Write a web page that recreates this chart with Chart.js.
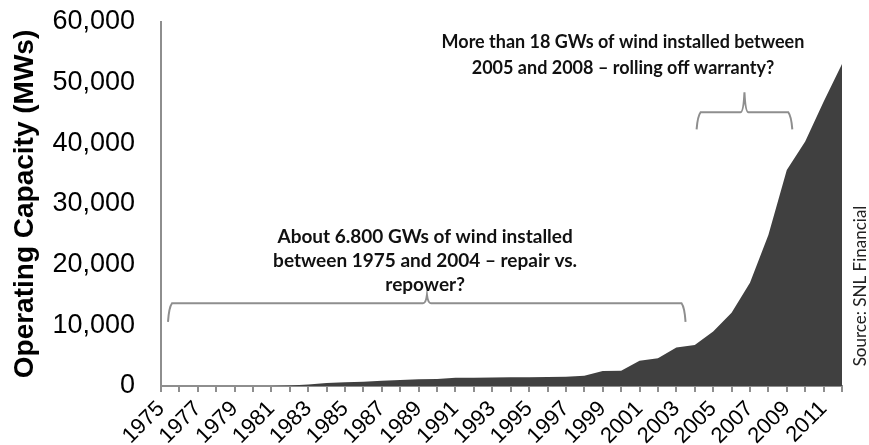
<!DOCTYPE html>
<html>
<head>
<meta charset="utf-8">
<script src="https://cdn.jsdelivr.net/npm/chart.js@4/dist/chart.umd.min.js"></script>
<style>
  html, body { margin: 0; padding: 0; background: #ffffff; }
  #wrap { position: relative; width: 869px; height: 445px; overflow: hidden; }
</style>
</head>
<body>
<div id="wrap"><canvas id="chart" width="869" height="445"></canvas></div>
<script>
// Installed years on the category axis
const years = [
  '1975','1976','1977','1978','1979','1980','1981','1982','1983','1984',
  '1985','1986','1987','1988','1989','1990','1991','1992','1993','1994',
  '1995','1996','1997','1998','1999','2000','2001','2002','2003','2004',
  '2005','2006','2007','2008','2009','2010','2011','2012'
];

// Cumulative operating wind capacity, MW
const capacityMW = [
  0, 0, 0, 0, 0, 10, 20, 70, 230, 480,
  600, 720, 880, 990, 1100, 1160, 1380, 1380, 1390, 1430,
  1430, 1480, 1520, 1670, 2480, 2530, 4150, 4580, 6330, 6750,
  9000, 12070, 17020, 24900, 35600, 40300, 46860, 53060
];

// Value axis ticks
const yTicks = [0, 10000, 20000, 30000, 40000, 50000, 60000];

// Callout texts
const earlyNote = ['About 6.800 GWs of wind installed', 'between 1975 and 2004 \u2013 repair vs.', 'repower?'];
const boomNote = ['More than 18 GWs of wind installed between', '2005 and 2008 \u2013 rolling off warranty?'];
const sourceNote = 'Source: SNL Financial';

// Braces in axis units: [fromIndex, toIndex, centreIndex, barValue, tipValue, cuspValue]
const earlyBrace = [0.38, 28.5, 14.45, 13640, 10580, 15040];
const boomBrace = [29.1, 34.3, 31.7, 45120, 42310, 48430];

// Text anchors in axis units: [centreIndex, firstLineValue]
const earlyTextAt = [14.35, 24600];
const boomTextAt = [25.1, 56600];

const AXIS_GREY = '#8e8e8e';
const FILL = '#404040';

function drawBrace(ctx, xs, ys, b) {
  const x0 = xs.getPixelForValue(b[0]);
  const x1 = xs.getPixelForValue(b[1]);
  const xc = xs.getPixelForValue(b[2]);
  const yBar = ys.getPixelForValue(b[3]);
  const yTip = ys.getPixelForValue(b[4]);
  const yCusp = ys.getPixelForValue(b[5]);
  const r = 4;
  ctx.beginPath();
  ctx.moveTo(x0, yTip);
  ctx.quadraticCurveTo(x0 + 1, yBar + r, x0 + r, yBar);
  ctx.lineTo(xc - r, yBar);
  ctx.quadraticCurveTo(xc - 1, yBar, xc, yCusp);
  ctx.quadraticCurveTo(xc + 1, yBar, xc + r, yBar);
  ctx.lineTo(x1 - r, yBar);
  ctx.quadraticCurveTo(x1 - 1, yBar + r, x1, yTip);
  ctx.stroke();
}

const calloutPlugin = {
  id: 'callouts',
  afterDraw(chart) {
    const ctx = chart.ctx;
    const xs = chart.scales.x;
    const ys = chart.scales.y;
    ctx.save();
    ctx.strokeStyle = AXIS_GREY;
    ctx.lineWidth = 2;
    drawBrace(ctx, xs, ys, earlyBrace);
    drawBrace(ctx, xs, ys, boomBrace);

    ctx.fillStyle = '#111111';
    ctx.textAlign = 'center';
    ctx.textBaseline = 'middle';
    ctx.font = 'bold 19px Lato';
    let cx = xs.getPixelForValue(earlyTextAt[0]);
    let cy = ys.getPixelForValue(earlyTextAt[1]);
    earlyNote.forEach((t, i) => ctx.fillText(t, cx, cy + i * 24));
    ctx.font = 'bold 18px Lato';
    cx = xs.getPixelForValue(boomTextAt[0]);
    cy = ys.getPixelForValue(boomTextAt[1]);
    boomNote.forEach((t, i) => ctx.fillText(t, cx, cy + i * 26));

    // vertical source credit at the right edge
    ctx.font = '17px Lato';
    ctx.fillStyle = '#222222';
    ctx.translate(861, 286);
    ctx.rotate(-Math.PI / 2);
    ctx.fillText(sourceNote, 0, 0);
    ctx.restore();
  }
};

new Chart(document.getElementById('chart'), {
  type: 'line',
  data: {
    labels: years,
    datasets: [{
      data: capacityMW,
      fill: 'origin',
      backgroundColor: FILL,
      borderWidth: 0,
      pointRadius: 0,
      tension: 0
    }]
  },
  options: {
    responsive: false,
    devicePixelRatio: 1,
    animation: false,
    layout: { padding: { top: 22, right: 27, bottom: 0, left: 0 } },
    plugins: { legend: { display: false }, tooltip: { enabled: false } },
    scales: {
      x: {
        type: 'category',
        offset: false,
        afterFit(scale) { scale.height = 59; },
        border: { color: AXIS_GREY, width: 2 },
        grid: { drawOnChartArea: false, drawTicks: true, tickLength: 6, color: AXIS_GREY, tickColor: AXIS_GREY, lineWidth: 2 },
        ticks: {
          autoSkip: false,
          maxRotation: 45,
          minRotation: 45,
          padding: 4,
          color: '#000000',
          font: { family: 'Liberation Sans', size: 22 },
          callback(value, index) { return index % 2 === 0 ? years[index] : ''; }
        }
      },
      y: {
        min: 0,
        max: 60000,
        afterFit(scale) { scale.width = 161; },
        afterBuildTicks(scale) { scale.ticks = yTicks.map(v => ({ value: v })); },
        border: { color: AXIS_GREY, width: 2 },
        // invisible tick marks keep the labels clear of the axis line
        grid: { display: true, drawOnChartArea: false, drawTicks: true, tickLength: 23, tickColor: 'rgba(0,0,0,0)' },
        title: {
          display: true,
          text: 'Operating Capacity (MWs)',
          color: '#000000',
          font: { family: 'Liberation Sans', size: 28, weight: 'bold' },
          padding: { top: 8, bottom: 0 }
        },
        ticks: {
          padding: 3,
          color: '#000000',
          font: { family: 'Liberation Sans', size: 27 },
          callback(value) { return Number(value).toLocaleString('en-US'); }
        }
      }
    }
  },
  plugins: [calloutPlugin]
});
</script>
</body>
</html>
